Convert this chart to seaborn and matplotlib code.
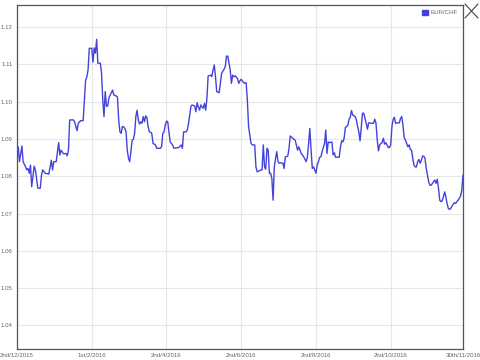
import matplotlib
matplotlib.use("Agg")
import matplotlib.pyplot as plt
import seaborn as sns
import pandas as pd
from matplotlib.patches import Patch
from matplotlib.lines import Line2D

series_name = "EUR/CHF"
start_date = "2015-12-02"
end_date = "2016-11-30"

# days since 2 Dec 2015
day_offsets = [
    1, 2, 4, 5, 7, 8, 9, 10, 11, 12,
    14, 15, 17, 19, 20, 21, 23, 26, 28, 29,
    30, 32, 34, 35, 36, 38, 40, 41, 42, 43,
    46, 47, 49, 50, 52, 54, 55, 56, 57, 58,
    59, 61, 62, 63, 64, 65, 66, 68, 69, 70,
    71, 72, 73, 74, 75, 78, 79, 81, 82, 83,
    84, 85, 86, 87, 88, 89, 90, 91, 92, 94,
    95, 96, 97, 98, 99, 100, 101, 102, 103, 104,
    105, 106, 107, 108, 109, 110, 111, 113, 114, 115,
    117, 118, 119, 120, 121, 122, 123, 124, 125, 127,
    128, 130, 132, 134, 135, 136, 138, 139, 140, 142,
    143, 145, 146, 147, 148, 149, 150, 151, 152, 153,
    154, 155, 156, 158, 159, 160, 161, 162, 163, 165,
    166, 167, 169, 170, 171, 172, 173, 174, 175, 176,
    177, 178, 180, 181, 182, 183, 185, 186, 187, 188,
    189, 191, 192, 194, 195, 196, 198, 199, 200, 201,
    202, 203, 204, 205, 206, 207, 208, 209, 210, 211,
    212, 213, 214, 215, 217, 218, 219, 221, 222, 223,
    225, 226, 227, 229, 230, 231, 232, 233, 234, 236,
    237, 238, 239, 240, 241, 242, 243, 244, 245, 246,
    247, 248, 249, 251, 252, 253, 254, 255, 257, 258,
    259, 260, 261, 263, 264, 265, 266, 267, 268, 269,
    270, 271, 272, 273, 274, 276, 277, 278, 279, 280,
    281, 282, 283, 285, 286, 287, 288, 289, 291, 292,
    293, 294, 295, 296, 297, 298, 299, 300, 301, 302,
    303, 304, 305, 306, 307, 308, 309, 310, 312, 313,
    314, 315, 316, 317, 318, 319, 320, 321, 322, 323,
    324, 325, 326, 327, 328, 329, 330, 331, 332, 333,
    334, 335, 336, 337, 338, 340, 341, 342, 343, 344,
    345, 346, 347, 348, 349, 350, 351, 352, 353, 354,
    356, 357, 358, 359, 360, 361, 362, 363, 364,
]

eur_chf = [
    1.0879, 1.0839, 1.0881, 1.0839, 1.0825, 1.0817, 1.0821, 1.0808, 1.0830, 1.0772,
    1.0827, 1.0817, 1.0768, 1.0768, 1.0803, 1.0817, 1.0808, 1.0806, 1.0843, 1.0817,
    1.0839, 1.0839, 1.0890, 1.0857, 1.0870, 1.0860, 1.0861, 1.0855, 1.0870, 1.0951,
    1.0951, 1.0946, 1.0922, 1.0942, 1.0949, 1.0949, 1.1004, 1.1058, 1.1066, 1.1085,
    1.1143, 1.1143, 1.1106, 1.1144, 1.1130, 1.1167, 1.1103, 1.1103, 1.1077, 1.1004,
    1.0960, 1.1027, 1.0988, 1.0988, 1.1010, 1.1031, 1.1018, 1.1015, 1.1012, 1.0951,
    1.0919, 1.0915, 1.0933, 1.0933, 1.0928, 1.0919, 1.0870, 1.0848, 1.0839, 1.0897,
    1.0899, 1.0915, 1.0960, 1.0977, 1.0951, 1.0940, 1.0946, 1.0942, 1.0960, 1.0946,
    1.0962, 1.0957, 1.0933, 1.0919, 1.0918, 1.0915, 1.0888, 1.0884, 1.0875, 1.0875,
    1.0875, 1.0879, 1.0915, 1.0919, 1.0937, 1.0948, 1.0946, 1.0919, 1.0892, 1.0884,
    1.0875, 1.0876, 1.0877, 1.0884, 1.0875, 1.0919, 1.0919, 1.0924, 1.0942, 1.0988,
    1.0991, 1.0988, 1.0973, 1.0997, 1.0986, 1.0977, 1.0991, 1.0986, 1.0982, 1.0995,
    1.0977, 1.1009, 1.1069, 1.1071, 1.1067, 1.1085, 1.1098, 1.1067, 1.1027, 1.1024,
    1.1049, 1.1076, 1.1087, 1.1094, 1.1122, 1.1122, 1.1103, 1.1085, 1.1049, 1.1071,
    1.1067, 1.1069, 1.1062, 1.1049, 1.1056, 1.1060, 1.1051, 1.1049, 1.1051, 1.1004,
    1.0933, 1.0888, 1.0884, 1.0884, 1.0825, 1.0812, 1.0815, 1.0817, 1.0817, 1.0884,
    1.0825, 1.0819, 1.0875, 1.0870, 1.0808, 1.0808, 1.0794, 1.0736, 1.0825, 1.0848,
    1.0866, 1.0839, 1.0835, 1.0836, 1.0835, 1.0821, 1.0852, 1.0854, 1.0875, 1.0908,
    1.0902, 1.0899, 1.0897, 1.0870, 1.0879, 1.0870, 1.0861, 1.0857, 1.0852, 1.0839,
    1.0852, 1.0888, 1.0928, 1.0870, 1.0821, 1.0825, 1.0817, 1.0808, 1.0830, 1.0839,
    1.0851, 1.0852, 1.0866, 1.0888, 1.0924, 1.0861, 1.0892, 1.0890, 1.0892, 1.0857,
    1.0863, 1.0851, 1.0851, 1.0851, 1.0879, 1.0895, 1.0892, 1.0902, 1.0931, 1.0933,
    1.0937, 1.0953, 1.0958, 1.0976, 1.0964, 1.0960, 1.0951, 1.0933, 1.0919, 1.0895,
    1.0933, 1.0969, 1.0969, 1.0942, 1.0926, 1.0943, 1.0943, 1.0942, 1.0942, 1.0953,
    1.0942, 1.0897, 1.0868, 1.0884, 1.0888, 1.0890, 1.0902, 1.0886, 1.0890, 1.0884,
    1.0877, 1.0877, 1.0884, 1.0933, 1.0953, 1.0958, 1.0942, 1.0943, 1.0943, 1.0955,
    1.0960, 1.0937, 1.0904, 1.0897, 1.0888, 1.0879, 1.0884, 1.0872, 1.0870, 1.0848,
    1.0830, 1.0825, 1.0825, 1.0839, 1.0845, 1.0835, 1.0843, 1.0854, 1.0854, 1.0848,
    1.0821, 1.0803, 1.0785, 1.0776, 1.0776, 1.0785, 1.0790, 1.0781, 1.0792, 1.0768,
    1.0736, 1.0732, 1.0734, 1.0745, 1.0758, 1.0745, 1.0727, 1.0714, 1.0711, 1.0714,
    1.0725, 1.0729, 1.0727, 1.0732, 1.0736, 1.0741, 1.0747, 1.0763, 1.0803,
]

tick_dates = ["2015-12-02", "2016-02-01", "2016-04-02", "2016-06-02",
              "2016-08-02", "2016-10-02", "2016-11-30"]
tick_labels = ["2nd/12/2015", "1st/2/2016", "2nd/4/2016", "2nd/6/2016",
               "2nd/8/2016", "2nd/10/2016", "30th/11/2016"]
y_ticks = [1.04, 1.05, 1.06, 1.07, 1.08, 1.09, 1.10, 1.11, 1.12]
y_limits = (1.0337, 1.1259)

line_color = "#4343dc"
text_color = "#666666"

df = pd.DataFrame({
    "date": pd.Timestamp(start_date) + pd.to_timedelta(day_offsets, unit="D"),
    "rate": eur_chf,
})

sns.set_style("white")
plt.rcParams["font.family"] = ["Liberation Sans", "DejaVu Sans"]

fig = plt.figure(figsize=(4.8, 3.6), dpi=100)
ax = fig.add_axes([17 / 480, 1 - 349 / 360, (463 - 17) / 480, (349 - 5) / 360])

sns.lineplot(data=df, x="date", y="rate", ax=ax, color=line_color,
             linewidth=1.0, legend=False)

ax.set_xlim(pd.Timestamp(start_date), pd.Timestamp(end_date))
ax.set_ylim(*y_limits)
ax.set_xticks(pd.to_datetime(tick_dates))
ax.set_xticklabels(tick_labels)
ax.set_yticks(y_ticks)
ax.set_yticklabels([f"{v:.2f}" for v in y_ticks])
ax.set_xlabel("")
ax.set_ylabel("")

ax.grid(True, color="#e6e6e6", linewidth=0.8)
ax.set_axisbelow(True)
ax.tick_params(axis="both", length=0, labelsize=4.4, labelcolor=text_color)
ax.tick_params(axis="x", pad=3)
ax.tick_params(axis="y", pad=3)
for s in ax.spines.values():
    s.set_visible(True)
    s.set_color("#555555")
    s.set_linewidth(0.9)

ax.legend(handles=[Patch(facecolor=line_color, edgecolor=line_color)],
          labels=[series_name], loc="upper right", frameon=False,
          fontsize=4.4, labelcolor=text_color, handlelength=1.0,
          handleheight=0.8, handletextpad=0.5, borderaxespad=0.4)

# close icon in the top-right corner
fig.add_artist(Line2D([465 / 480, 478 / 480], [1 - 4 / 360, 1 - 18 / 360],
                      color="#444444", linewidth=0.8))
fig.add_artist(Line2D([465 / 480, 478 / 480], [1 - 18 / 360, 1 - 4 / 360],
                      color="#444444", linewidth=0.8))

fig.savefig("out.png", dpi=100)
